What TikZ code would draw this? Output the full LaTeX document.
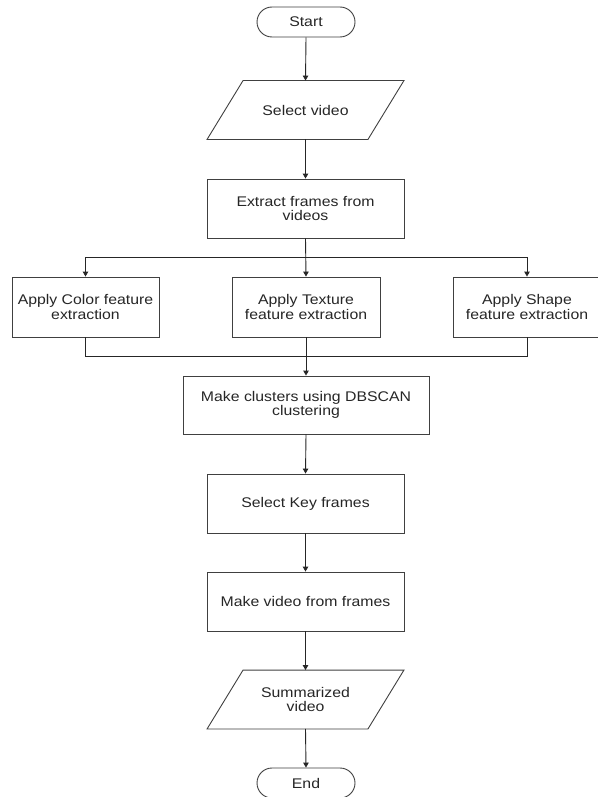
\documentclass[tikz,border=0pt]{standalone}
\usepackage{fontspec}
\setmainfont{Liberation Sans}[FakeStretch=1.13]
\usetikzlibrary{arrows.meta,calc}
\begin{document}
\begin{tikzpicture}[x=1pt,y=-1pt,
  line width=0.9pt,
  every node/.style={font=\fontsize{14}{14.5}\selectfont, text=black!85, align=center, inner sep=0pt},
  procbox/.style={draw=black!75, rectangle, minimum width=197, minimum height=59},
  termbox/.style={draw=black!75, rectangle, rounded corners=15, minimum width=98, minimum height=30},
  iobox/.style={rectangle, minimum width=124, minimum height=58},
  iodraw/.style={draw=black!75},
  conn/.style={draw=black!85, -{Triangle[width=5.5pt,length=5pt]}},
  plain/.style={draw=black!85}]
\useasboundingbox (0,0) rectangle (597,797);
\fill[white] (0,0) rectangle (597,797);

\node[termbox] (start) at (306,22) {Start};
\node[iobox] (sel) at (305.5,110) {Select video};
\node[procbox] (ext) at (305.5,208.5) {Extract frames from\\videos};
\node[procbox, minimum width=147, minimum height=60] (col) at (85.5,307) {Apply Color feature\\extraction};
\node[procbox, minimum width=148, minimum height=60] (tex) at (306,307) {Apply Texture\\feature extraction};
\node[procbox, minimum width=148, minimum height=60] (shp) at (527,307) {Apply Shape\\feature extraction};
\node[procbox, minimum width=246, minimum height=58] (clu) at (306,405) {Make clusters using DBSCAN\\clustering};
\node[procbox] (key) at (305.5,503.5) {Select Key frames};
\node[procbox] (mv) at (305.5,601.5) {Make video from frames};
\node[iobox] (sum) at (305.5,699.5) {Summarized\\video};
\node[termbox] (end) at (306,783) {End};

% parallelograms
\draw[iodraw] (sel.north west) -- ([xshift=36]sel.north east) -- (sel.south east) -- ([xshift=-36]sel.south west) -- cycle;
\draw[iodraw] (sum.north west) -- ([xshift=36]sum.north east) -- (sum.south east) -- ([xshift=-36]sum.south west) -- cycle;

% connectors
\draw[conn] (start.south) -- (sel.north);
\draw[conn] (sel.south) -- (ext.north);
\coordinate (split) at ($(ext.south)!0.5!(tex.north)$);
\draw[conn] (ext.south) -- (tex.north);
\draw[conn] (split) -| (col.north);
\draw[conn] (split) -| (shp.north);
\coordinate (merge) at ($(tex.south)!0.5!(clu.north)$);
\draw[plain] (col.south) |- (merge) -| (shp.south);
\draw[conn] (tex.south) -- (clu.north);
\draw[conn] (clu.south) -- (key.north);
\draw[conn] (key.south) -- (mv.north);
\draw[conn] (mv.south) -- (sum.north);
\draw[conn] (sum.south) -- (end.north);
\end{tikzpicture}
\end{document}
